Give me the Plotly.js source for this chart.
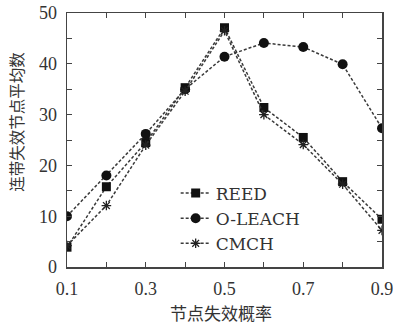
<!DOCTYPE html>
<html>
<head>
<meta charset="utf-8">
<script src="https://cdn.plot.ly/plotly-3.0.1.min.js"></script>
<style>html,body{margin:0;padding:0;background:#fff;}#chart{width:393px;height:329px;}</style>
</head>
<body>
<div id="chart"></div>
<script>
const probs = [0.1, 0.2, 0.3, 0.4, 0.5, 0.6, 0.7, 0.8, 0.9];
const reed = [3.9, 15.8, 24.5, 35.3, 47.1, 31.4, 25.5, 16.8, 9.4];
const oleach = [10, 18, 26.2, 35.0, 41.4, 44.1, 43.3, 39.9, 27.3];
const cmch = [4.2, 12.1, 24.0, 34.6, 46.5, 30.0, 24.1, 16.3, 7.2];
const seriesNames = ['REED', 'O-LEACH', 'CMCH'];
const xTickVals = [0.1, 0.3, 0.5, 0.7, 0.9];
const xTickText = ['0.1', '0.3', '0.5', '0.7', '0.9'];
const yTickVals = [0, 10, 20, 30, 40, 50];
const xTitle = '节点失效概率';
const yTitle = '连带失效节点平均数';

const lineStyle = {color: '#3a3a3a', width: 1.5, dash: '3px,2px'};
const traces = [
  {x: probs, y: reed, name: seriesNames[0], mode: 'lines+markers',
   line: lineStyle, marker: {symbol: 'square', size: 9, color: '#111'}},
  {x: probs, y: oleach, name: seriesNames[1], mode: 'lines+markers',
   line: lineStyle, marker: {symbol: 'circle', size: 10, color: '#111'}},
  {x: probs, y: cmch, name: seriesNames[2], mode: 'lines+markers',
   line: lineStyle, marker: {symbol: 'asterisk-open', size: 8, color: '#222', line: {color: '#222', width: 1.3}}}
];

const tickFont = {family: 'Liberation Serif, serif', size: 18, color: '#333'};

const layout = {
  width: 393, height: 329,
  margin: {l: 67, r: 11, t: 13, b: 62},
  paper_bgcolor: '#fff', plot_bgcolor: '#fff',
  showlegend: true,
  legend: {x: 0.345, y: 0.36, xanchor: 'left', yanchor: 'top',
           bgcolor: 'rgba(0,0,0,0)', borderwidth: 0,
           font: {family: 'DejaVu Serif, serif', size: 17, color: '#333'},
           tracegroupgap: 0, itemwidth: 30},
  xaxis: {
    range: [0.1, 0.9], tickvals: xTickVals, ticktext: xTickText,
    ticks: 'inside', ticklen: 5, tickwidth: 1, tickcolor: '#444',
    minor: {dtick: 0.1, tick0: 0.1, ticks: 'inside', ticklen: 5, tickcolor: '#444', showgrid: false},
    showline: true, linecolor: '#444', linewidth: 1.5, mirror: 'allticks',
    showgrid: false, zeroline: false, tickfont: tickFont,
    ticklabelstandoff: 5, ticklabeloverflow: 'allow'
  },
  yaxis: {
    range: [0, 50], tickvals: yTickVals,
    ticks: 'inside', ticklen: 5, tickwidth: 1, tickcolor: '#444',
    minor: {dtick: 5, tick0: 0, ticks: 'inside', ticklen: 5, tickcolor: '#444', showgrid: false},
    showline: true, linecolor: '#444', linewidth: 1.5, mirror: 'allticks',
    showgrid: false, zeroline: false, tickfont: tickFont,
    ticklabelstandoff: 5, ticklabeloverflow: 'allow'
  },
  annotations: [
    {text: xTitle, xref: 'paper', yref: 'paper', x: 0.49, y: -0.18,
     xanchor: 'center', yanchor: 'middle', showarrow: false,
     font: {family: 'Noto Sans CJK SC, sans-serif', size: 17, color: '#333'}},
    {text: yTitle, xref: 'paper', yref: 'paper', x: -0.16, y: 0.57,
     xanchor: 'center', yanchor: 'middle', showarrow: false, textangle: -90,
     font: {family: 'Noto Sans CJK SC, sans-serif', size: 15.5, color: '#333'}}
  ]
};

Plotly.newPlot('chart', traces, layout, {staticPlot: true, displayModeBar: false});
</script>
</body>
</html>
